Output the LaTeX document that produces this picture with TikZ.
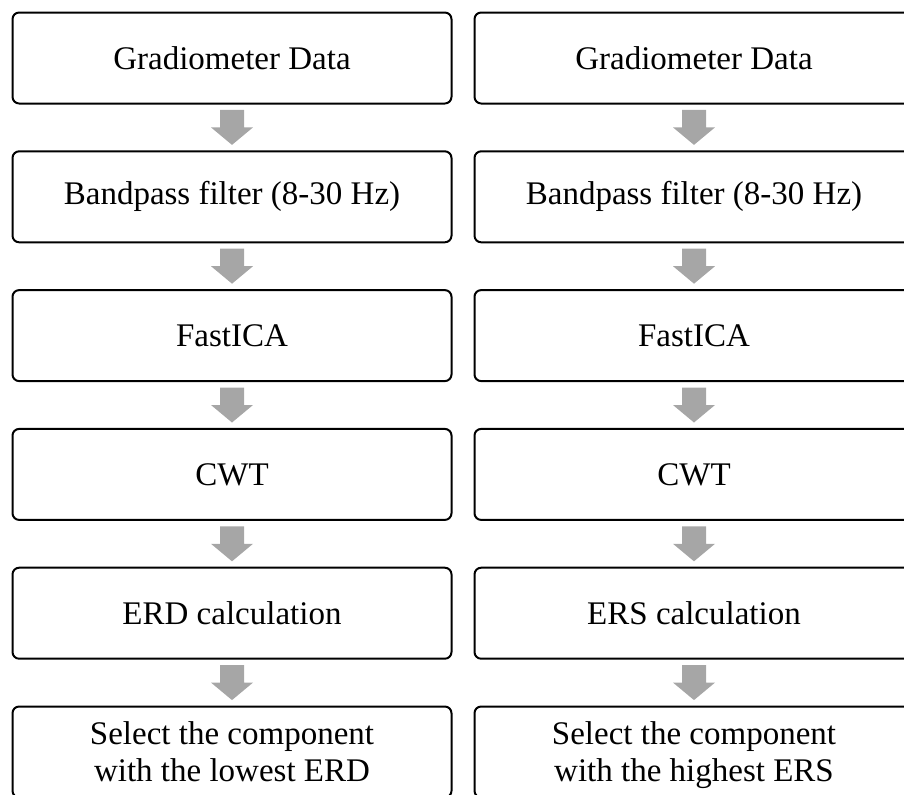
\documentclass[tikz,border=0pt]{standalone}
\usepackage{fontspec}
\setmainfont{Liberation Serif}
\usetikzlibrary{calc}
\definecolor{arrowgray}{RGB}{166,166,166}
\begin{document}
\begin{tikzpicture}[x=0.75pt,y=-0.75pt,
  box/.style={draw=black, line width=1.5pt, rounded corners=5pt,
    minimum width=329.25pt, minimum height=68.25pt, inner sep=0pt,
    align=center, font=\fontsize{24.75}{27.75}\selectfont, fill=white},
  lastbox/.style={box, text depth=0pt},
  garrow/.style={fill=arrowgray, draw=none}]
\useasboundingbox (0,0) rectangle (904,794);
\begin{scope}
\clip (0,0) rectangle (904,794);
% left column
\node[box] (L1) at (232,58) {Gradiometer Data};
\node[box] (L2) at (232,196.8) {Bandpass filter (8-30 Hz)};
\node[box] (L3) at (232,335.6) {FastICA};
\node[box] (L4) at (232,474.4) {CWT};
\node[box] (L5) at (232,613.2) {ERD calculation};
\node[lastbox] (L6) at (232,752) {Select the component\\with the lowest ERD};
% right column
\node[box] (R1) at (694,58) {Gradiometer Data};
\node[box] (R2) at (694,196.8) {Bandpass filter (8-30 Hz)};
\node[box] (R3) at (694,335.6) {FastICA};
\node[box] (R4) at (694,474.4) {CWT};
\node[box] (R5) at (694,613.2) {ERS calculation};
\node[lastbox] (R6) at (694,752) {Select the component\\with the highest ERS};
% block arrows between consecutive boxes
\foreach \c in {L,R}{
  \foreach \a/\b in {1/2,2/3,3/4,4/5,5/6}{
    \coordinate (m) at ($(\c\a.south)!0.5!(\c\b.north)$);
    \fill[garrow] ($(m)+(-12,-17.5)$) -- ($(m)+(12,-17.5)$) -- ($(m)+(12,0)$)
      -- ($(m)+(21,0)$) -- ($(m)+(0,17.5)$) -- ($(m)+(-21,0)$)
      -- ($(m)+(-12,0)$) -- cycle;
  }
}
\end{scope}
\end{tikzpicture}
\end{document}
